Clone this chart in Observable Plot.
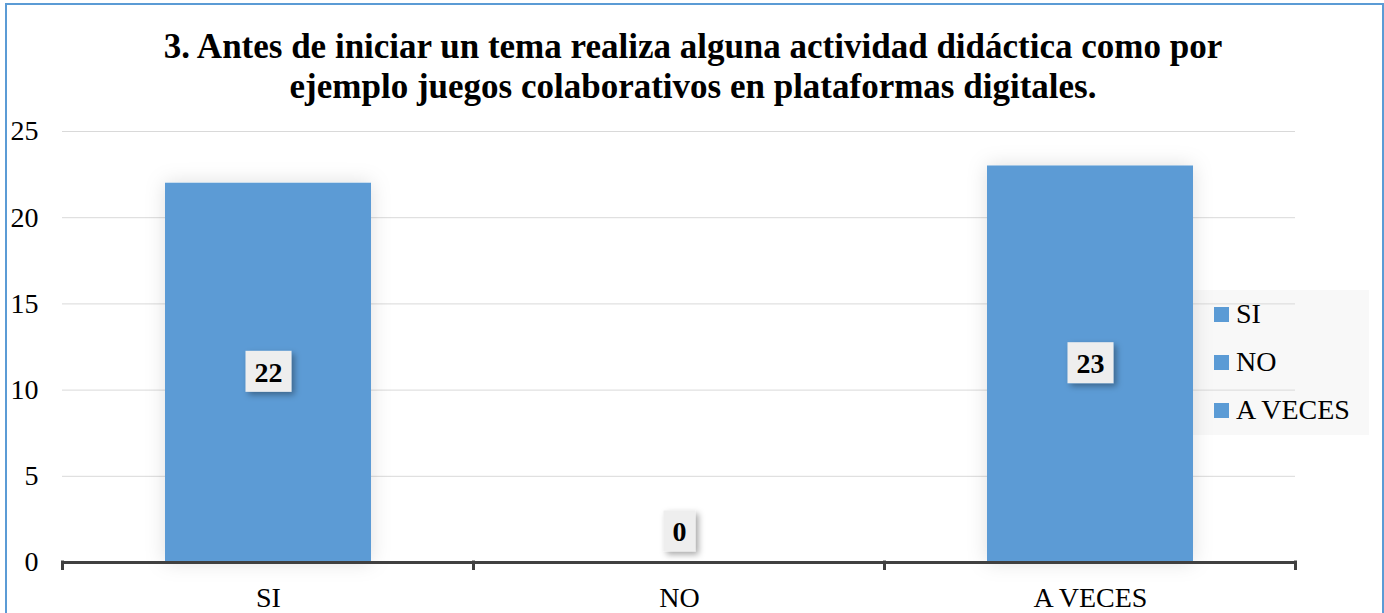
<!DOCTYPE html>
<html><head><meta charset="utf-8">
<script src="https://cdn.jsdelivr.net/npm/d3@7"></script>
<script src="https://cdn.jsdelivr.net/npm/@observablehq/plot@0.6"></script>
<style>
html,body{margin:0;padding:0;width:1384px;height:613px;overflow:hidden;background:#fff;font-family:"Liberation Serif","Times New Roman",serif;color:#000;}
#frame{position:absolute;left:5px;top:3px;width:1379px;height:660px;border:2px solid #5b9bd5;box-sizing:border-box;}
#title{position:absolute;left:0;top:27px;width:1386px;text-align:center;font-family:"Liberation Serif","Times New Roman",serif;font-weight:700;font-size:35px;line-height:40px;}
#legend{position:absolute;left:1193px;top:290px;width:176px;height:145px;background:#f8f8f8;}
#legend .item{height:48px;display:flex;align-items:center;font-size:28px;}
#legend .sw{width:15px;height:15px;background:#5b9bd5;margin-left:21px;margin-right:7px;}
#chart{position:absolute;left:0;top:115px;}
</style></head>
<body>
<div id="frame"></div>
<div id="title"></div>
<div id="legend"></div>
<div id="chart"></div>
<script>
const titleLines = ["3. Antes de iniciar un tema realiza alguna actividad didáctica como por", "ejemplo juegos colaborativos en plataformas digitales."];
const categories = ["SI", "NO", "A VECES"];
const values = [22, 0, 23];
const yTicks = [0, 5, 10, 15, 20, 25];
const legendLabels = ["SI", "NO", "A VECES"];

document.getElementById("title").innerHTML = titleLines.join("<br>");
const leg = document.getElementById("legend");
legendLabels.forEach(l => {
  const it = document.createElement("div"); it.className = "item";
  const sw = document.createElement("div"); sw.className = "sw";
  const tx = document.createElement("span"); tx.textContent = l;
  it.appendChild(sw); it.appendChild(tx); leg.appendChild(it);
});

const data = categories.map((c, i) => ({cat: c, value: values[i]}));
const nonzero = data.filter(d => d.value !== 0);
const zero = data.filter(d => d.value === 0);

const plot = Plot.plot({
  width: 1384, height: 498,
  marginLeft: 62, marginRight: 89, marginTop: 16, marginBottom: 51,
  style: {fontFamily: "'Liberation Serif','Times New Roman',serif", fontSize: "28px", color: "#000", background: "transparent", overflow: "visible"},
  x: {domain: categories, paddingInner: 0.5, paddingOuter: 0.25, label: null},
  y: {domain: [0, 25], label: null},
  marks: [
    Plot.gridY(yTicks, {stroke: "#d9d9d9", strokeOpacity: 1, strokeWidth: 1}),
    Plot.barY(data, {x: "cat", y: "value", fill: "#5b9bd5"}),
    Plot.ruleY([0], {stroke: "#404040", strokeWidth: 3}),
    Plot.axisY(yTicks, {tickSize: 0, tickPadding: 24, fill: "#000"}),
    Plot.axisX({tickSize: 0, tickPadding: 25, fill: "#000"}),
    Plot.text(nonzero, {x: "cat", y: d => d.value / 2, text: d => String(d.value), fontWeight: "bold", fontSize: 28, fill: "#000"}),
    Plot.text(zero, {x: "cat", y: "value", dy: -30, text: d => String(d.value), fontWeight: "bold", fontSize: 28, fill: "#000"})
  ]
});
document.getElementById("chart").appendChild(plot);

const svg = d3.select(plot);
const defs = svg.insert("defs", ":first-child");
defs.append("filter").attr("id", "barsh").attr("x", "-30%").attr("y", "-10%").attr("width", "160%").attr("height", "120%")
  .append("feDropShadow").attr("dx", 0).attr("dy", 0).attr("stdDeviation", 10).attr("flood-color", "#000").attr("flood-opacity", 0.13);
defs.append("filter").attr("id", "lblsh").attr("x", "-30%").attr("y", "-30%").attr("width", "170%").attr("height", "170%")
  .append("feDropShadow").attr("dx", 3).attr("dy", 3).attr("stdDeviation", 3).attr("flood-color", "#000").attr("flood-opacity", 0.35);

svg.selectAll('g[aria-label="bar"] rect').attr("filter", "url(#barsh)");

// label boxes
svg.selectAll('g[aria-label="text"] text').each(function() {
  const b = this.getBBox();
  const cx = b.x + b.width / 2, cy = b.y + b.height / 2;
  const w = b.width + 18, h = 41;
  d3.select(this.parentNode).insert("rect", () => this)
    .attr("x", cx - w / 2).attr("y", cy - h / 2 - 1).attr("width", w).attr("height", h)
    .attr("fill", "#eeeeee").attr("filter", "url(#lblsh)")
    .attr("transform", this.getAttribute("transform"));
});

// category boundary ticks on the baseline
const xs = plot.scale("x"), ys = plot.scale("y");
const y0 = ys.apply(0);
const gap = (xs.step - xs.bandwidth) / 2;
const bounds = categories.map(c => xs.apply(c) - gap);
bounds.push(xs.apply(categories[categories.length - 1]) + xs.bandwidth + gap);
const tg = svg.append("g");
bounds.forEach(bx => {
  tg.append("line").attr("x1", bx).attr("x2", bx).attr("y1", y0 - 1.5).attr("y2", y0 + 8)
    .attr("stroke", "#404040").attr("stroke-width", 3);
});
svg.node().appendChild(svg.select('g[aria-label="rule"]').node());
</script>
</body></html>
